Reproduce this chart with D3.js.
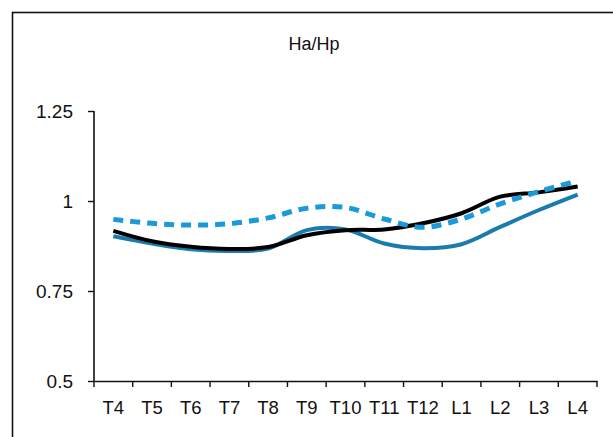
<!DOCTYPE html>
<html>
<head>
<meta charset="utf-8">
<script src="https://cdn.jsdelivr.net/npm/d3@7"></script>
<style>
  body { margin: 0; background: #fff; }
  svg { display: block; }
  text { font-family: "Liberation Sans", Arial, sans-serif; fill: #111; }
</style>
</head>
<body>
<svg width="613" height="437"></svg>
<script>
// vertebral levels
var levels = ["T4","T5","T6","T7","T8","T9","T10","T11","T12","L1","L2","L3","L4"];
// series
var dashedVals = [0.949,0.938,0.933,0.937,0.953,0.980,0.982,0.950,0.927,0.950,0.992,1.026,1.056];
var blackVals  = [0.917,0.888,0.873,0.867,0.872,0.905,0.919,0.921,0.938,0.966,1.012,1.024,1.040];
var blueVals   = [0.902,0.882,0.866,0.861,0.868,0.919,0.921,0.882,0.869,0.880,0.928,0.975,1.018];
var yTicks = [0.5, 0.75, 1, 1.25];

var svg = d3.select("svg");

// outer frame (runs off right/bottom edge)
svg.append("rect")
    .attr("x", 12.5).attr("y", 12.5)
    .attr("width", 620).attr("height", 440)
    .attr("fill", "none").attr("stroke", "#111").attr("stroke-width", 1.6);

svg.append("text")
    .attr("x", 314).attr("y", 50)
    .attr("text-anchor", "middle")
    .style("font-size", "18px")
    .text("Ha/Hp");

var x = d3.scaleBand().domain(levels).range([94, 597]);
var y = d3.scaleLinear().domain([0.5, 1.25]).range([381, 111]);

var xAxis = svg.append("g")
    .attr("transform", "translate(0,381)")
    .call(d3.axisBottom(x).tickSize(0).tickPadding(20));
xAxis.select(".domain").attr("stroke", "#111").attr("stroke-width", 1.6);
xAxis.selectAll("text").style("font-size", "18.5px");

// tick marks on band boundaries
var bounds = levels.map(function(d){ return x(d); }).concat([x.range()[1]]);
svg.append("g").selectAll("line")
    .data(bounds)
    .enter().append("line")
    .attr("x1", function(d){ return d; }).attr("x2", function(d){ return d; })
    .attr("y1", 381).attr("y2", 387)
    .attr("stroke", "#111").attr("stroke-width", 1.4);

var yAxis = svg.append("g")
    .attr("transform", "translate(94,0)")
    .call(d3.axisLeft(y).tickValues(yTicks).tickSize(6).tickPadding(15)
        .tickFormat(function(d){ return String(d); }));
yAxis.select(".domain").attr("stroke", "#111").attr("stroke-width", 1.6)
    .attr("d", "M0," + y(1.25) + "V" + y(0.5));
yAxis.selectAll(".tick line").attr("stroke", "#111").attr("stroke-width", 1.4);
yAxis.selectAll("text").style("font-size", "19px");

var line = d3.line()
    .x(function(d, i){ return x(levels[i]) + x.bandwidth() / 2; })
    .y(function(d){ return y(d); })
    .curve(d3.curveCatmullRom.alpha(0.5));

svg.append("path").datum(blueVals)
    .attr("d", line).attr("fill", "none")
    .attr("stroke", "#1a7cae").attr("stroke-width", 4);

svg.append("path").datum(blackVals)
    .attr("d", line).attr("fill", "none")
    .attr("stroke", "#000").attr("stroke-width", 4);

svg.append("path").datum(dashedVals)
    .attr("d", line).attr("fill", "none")
    .attr("stroke", "#1b9ad9").attr("stroke-width", 5)
    .attr("stroke-dasharray", "10,7");
</script>
</body>
</html>
